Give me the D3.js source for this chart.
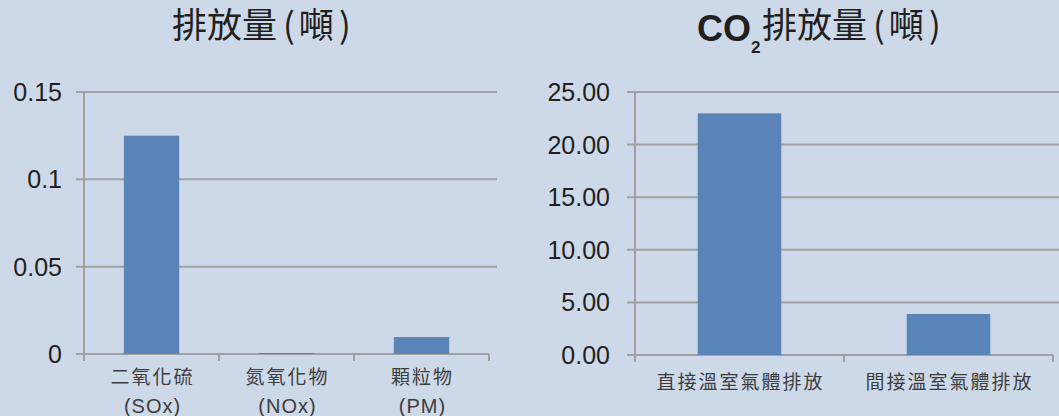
<!DOCTYPE html>
<html>
<head>
<meta charset="utf-8">
<script src="https://cdn.jsdelivr.net/npm/d3@7"></script>
<style>
  html, body { margin: 0; padding: 0; background: #cdd9e8; }
  svg { display: block; }
</style>
</head>
<body>
<div class="chart"></div>
<script>
(function emissions() {

  'use strict';

  // Left chart: pollutants (tons)
  var pollutantNames = ['二氧化硫', '氮氧化物', '顆粒物'];
  var pollutantCodes = ['(SOx)', '(NOx)', '(PM)'];
  var pollutantValues = [0.125, 0.0006, 0.0097];
  var pollutantTicks = [0, 0.05, 0.1, 0.15];
  var pollutantTickLabels = ['0', '0.05', '0.1', '0.15'];

  // Right chart: CO2 (tons)
  var co2Names = ['直接溫室氣體排放', '間接溫室氣體排放'];
  var co2Values = [22.97, 3.9];
  var co2Ticks = [0, 5, 10, 15, 20, 25];

  var width = 1059;
  var height = 416;

  var gridColor = '#a0a0a0';
  var barColor = '#5a84b7';
  var latin = '"Liberation Sans", Arial, "Noto Sans CJK TC", sans-serif';
  var cjk = '"Noto Sans CJK TC", "Noto Sans CJK SC", sans-serif';

  var svg = d3.select('.chart').append('svg')
    .attr('width', width)
    .attr('height', height);

  function panel(opts) {

    var g = svg.append('g');

    var y = d3.scaleLinear()
      .domain([0, opts.max])
      .range([opts.bottom, opts.top]);

    var x = d3.scaleBand()
      .domain(opts.names)
      .range([opts.left, opts.right]);

    // Horizontal gridlines with short ticks on the left
    g.selectAll('.grid')
        .data(opts.ticks)
        .enter()
      .append('line')
        .attr('x1', opts.left - 8)
        .attr('x2', function (d) { return d === 0 ? opts.right : opts.gridEnd; })
        .attr('y1', function (d) { return y(d); })
        .attr('y2', function (d) { return y(d); })
        .attr('stroke', gridColor)
        .attr('stroke-width', 2);

    // Y tick labels
    g.selectAll('.ylabel')
        .data(opts.ticks)
        .enter()
      .append('text')
        .attr('x', opts.labelX)
        .attr('y', function (d) { return y(d); })
        .attr('dy', '0.36em')
        .attr('text-anchor', 'end')
        .attr('font-family', latin)
        .attr('font-size', 25)
        .attr('fill', '#231f20')
        .text(function (d, i) { return opts.tickFormat(d, i); });

    // Bars
    g.selectAll('.bar')
        .data(opts.values)
        .enter()
      .append('rect')
        .attr('x', function (d, i) {
          return x(opts.names[i]) + x.bandwidth() * (1 - opts.barRatio) / 2;
        })
        .attr('width', x.bandwidth() * opts.barRatio)
        .attr('y', function (d) { return y(d); })
        .attr('height', function (d) { return y(0) - y(d); })
        .attr('fill', barColor);

    // Y axis line
    g.append('line')
      .attr('x1', opts.left)
      .attr('x2', opts.left)
      .attr('y1', opts.top)
      .attr('y2', opts.bottom + 7)
      .attr('stroke', gridColor)
      .attr('stroke-width', 2);

    // X ticks at band edges
    var edges = opts.names.map(function (n) { return x(n); }).concat([opts.right]);

    g.selectAll('.xtick')
        .data(edges)
        .enter()
      .append('line')
        .attr('x1', function (d) { return d; })
        .attr('x2', function (d) { return d; })
        .attr('y1', opts.bottom)
        .attr('y2', opts.bottom + 7)
        .attr('stroke', gridColor)
        .attr('stroke-width', 2);

    // Category labels
    var labels = g.selectAll('.xlabel')
        .data(opts.names)
        .enter()
      .append('text')
        .attr('text-anchor', 'middle')
        .attr('fill', '#3d3d3d');

    labels.append('tspan')
      .attr('x', function (d) { return x(d) + x.bandwidth() / 2 + 1; })
      .attr('y', opts.labelY)
      .attr('font-family', cjk)
      .attr('font-size', 19)
      .attr('letter-spacing', 2)
      .text(function (d) { return d; });

    if (opts.codes) {
      labels.append('tspan')
        .attr('x', function (d) { return x(d) + x.bandwidth() / 2 + 1; })
        .attr('y', opts.labelY + 29)
        .attr('font-family', latin)
        .attr('font-size', 20)
        .attr('letter-spacing', 1)
        .text(function (d, i) { return opts.codes[i]; });
    }
  }

  panel({
    names: pollutantNames,
    codes: pollutantCodes,
    values: pollutantValues,
    ticks: pollutantTicks,
    max: 0.15,
    tickFormat: function (d, i) { return pollutantTickLabels[i]; },
    left: 84,
    right: 489,
    gridEnd: 497,
    top: 92,
    bottom: 354,
    labelX: 62,
    labelY: 384,
    barRatio: 0.41
  });

  panel({
    names: co2Names,
    values: co2Values,
    ticks: co2Ticks,
    max: 25,
    tickFormat: d3.format('.2f'),
    left: 635,
    right: 1053,
    gridEnd: 1059,
    top: 92,
    bottom: 355,
    labelX: 610,
    labelY: 389,
    barRatio: 0.40
  });

  // Titles: CJK text with narrow parentheses
  function titleTail(text) {
    text.append('tspan').text('排放量');
    text.append('tspan').attr('dx', 6).text('(');
    text.append('tspan').attr('dx', 4).text('噸');
    text.append('tspan').attr('dx', 5).text(')');
  }

  var t1 = svg.append('text')
    .attr('x', 172)
    .attr('y', 38)
    .attr('font-family', cjk)
    .attr('font-size', 35)
    .attr('fill', '#231f20');

  titleTail(t1);

  var t2 = svg.append('text')
    .attr('x', 697)
    .attr('y', 41)
    .attr('fill', '#231f20');

  t2.append('tspan')
    .attr('font-family', latin)
    .attr('font-weight', 'bold')
    .attr('font-size', 36)
    .text('CO');

  t2.append('tspan')
    .attr('font-family', latin)
    .attr('font-weight', 'bold')
    .attr('font-size', 17)
    .attr('dy', 12)
    .text('2');

  var t2b = svg.append('text')
    .attr('x', 762)
    .attr('y', 38)
    .attr('font-family', cjk)
    .attr('font-size', 35)
    .attr('fill', '#231f20');

  titleTail(t2b);
})();
</script>
</body>
</html>
